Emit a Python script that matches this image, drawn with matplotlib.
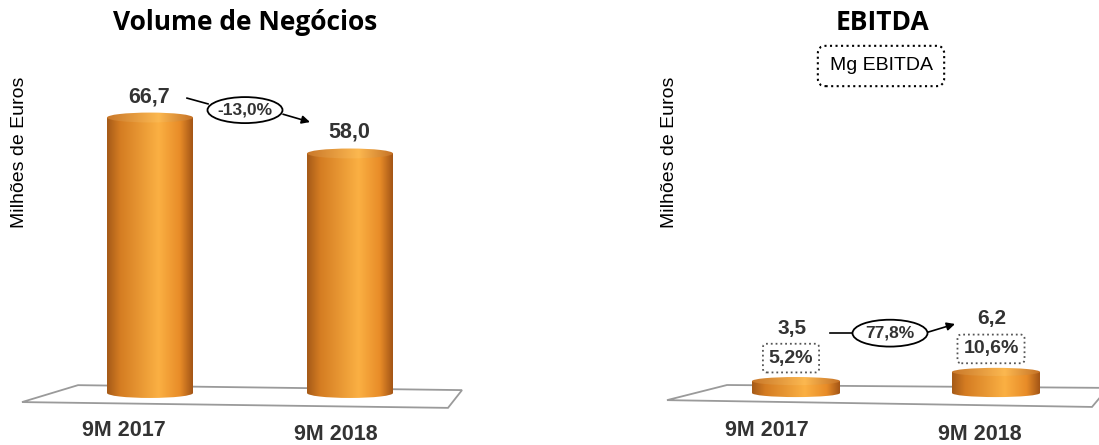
# Volume de Negocios / EBITDA - 9M 2017 vs 9M 2018 (cylinder bars)

import numpy as np
import matplotlib
matplotlib.use('Agg')
import matplotlib.pyplot as plt
from matplotlib.patches import Ellipse, Polygon
from matplotlib.colors import LinearSegmentedColormap

# Data
periods = ['9M 2017', '9M 2018']
volume = [66.7, 58.0]
ebitda = [3.5, 6.2]
ebitda_margin = ['5,2%', '10,6%']
volume_change = '-13,0%'
ebitda_change = '77,8%'

TEXT = '#333333'
SANS = 'Liberation Sans'
TITLE_FONT = 'Open Sans'

body_cmap = LinearSegmentedColormap.from_list('body', [
    (0.0, '#a55a18'), (0.15, '#d47c22'), (0.6, '#fbb043'),
    (0.85, '#e88c28'), (1.0, '#a35516')])
top_cmap = LinearSegmentedColormap.from_list('top', [
    (0.0, '#c9782a'), (0.6, '#fcb850'), (1.0, '#c57226')])


def fmt(v):
    return f"{v:.1f}".replace('.', ',')


def draw_cylinders(ax, values, width, ell_h):
    xs = np.arange(len(values))
    bars = ax.bar(xs, values, width=width, color='none', edgecolor='none', zorder=3)
    grad = np.linspace(0, 1, 256).reshape(1, -1)
    for x, h, bar in zip(xs, values, bars):
        x0, x1 = x - width / 2, x + width / 2
        im = ax.imshow(grad, cmap=body_cmap, extent=[x0, x1, -ell_h, h],
                       aspect='auto', zorder=3, interpolation='bicubic')
        im.set_clip_path(bar)
        bottom = Ellipse((x, 0), width, ell_h, fc='none', ec='none')
        ax.add_patch(bottom)
        im2 = ax.imshow(grad, cmap=body_cmap, extent=[x0, x1, -ell_h, ell_h],
                        aspect='auto', zorder=3, interpolation='bicubic')
        im2.set_clip_path(bottom)
        top = Ellipse((x, h), width, ell_h, fc='none', ec='none')
        ax.add_patch(top)
        im3 = ax.imshow(grad, cmap=top_cmap, extent=[x0, x1, h - ell_h, h + ell_h],
                        aspect='auto', zorder=4, interpolation='bicubic')
        im3.set_clip_path(top)
    return xs


def draw_floor(ax, corners):
    ax.add_patch(Polygon(corners, closed=True, facecolor='white',
                         edgecolor='#9a9a9a', linewidth=1.3, zorder=1))


def change_badge(ax, center, size, text, line_from, line_to, arrow_from, arrow_to):
    ax.plot([line_from[0], line_to[0]], [line_from[1], line_to[1]],
            color='black', linewidth=1.2, zorder=5)
    ax.annotate('', xy=arrow_to, xytext=arrow_from,
                arrowprops=dict(arrowstyle='-|>', color='black', lw=1.2,
                                mutation_scale=12, shrinkA=0, shrinkB=0), zorder=5)
    ax.add_patch(Ellipse(center, size[0], size[1], facecolor='white',
                         edgecolor='black', linewidth=1.3, zorder=6))
    ax.text(center[0], center[1], text, ha='center', va='center', fontsize=12.5,
            fontweight='bold', color=TEXT, family=SANS, zorder=7)


fig = plt.figure(figsize=(10.99, 4.45), dpi=100)

# ---- Left panel: Volume de Negocios ----
ax1 = fig.add_axes([0, 0, 550 / 1099, 1])
ax1.axis('off')
xs = draw_cylinders(ax1, volume, 0.43, 2.4)
draw_floor(ax1, [(-0.64, -2.2), (-0.36, 1.9), (1.56, 0.7), (1.49, -3.6)])
for x, v in zip(xs, volume):
    ax1.annotate(fmt(v), (x, v), xytext=(-1, 21), textcoords='offset pixels',
                 ha='center', va='center', fontsize=15.5, fontweight='bold',
                 color=TEXT, family=SANS, zorder=7)
for x, lab, dx, dy in zip(xs, periods, [-26, -14], [-37, -42]):
    ax1.annotate(lab, (x, 0), xytext=(dx, dy), textcoords='offset pixels',
                 ha='center', va='center', fontsize=15.5, fontweight='bold',
                 color=TEXT, family=SANS)
change_badge(ax1, (0.475, 68.5), (0.375, 6.3), volume_change,
             (0.185, 71.4), (0.29, 70.0), (0.665, 67.5), (0.8, 65.6))
ax1.set_xlim(-0.75, 2.0)
ax1.set_ylim(-52 / 4.13, 393 / 4.13)

# ---- Right panel: EBITDA ----
ax2 = fig.add_axes([550 / 1099, 0, 549 / 1099, 1])
ax2.axis('off')
xs = draw_cylinders(ax2, ebitda, 0.44, 2.4)
draw_floor(ax2, [(-0.645, -2.1), (-0.345, 2.35), (1.56, 1.5), (1.48, -4.1)])
for x, v, m in zip(xs, ebitda, ebitda_margin):
    ax2.annotate(fmt(v), (x, v), xytext=(-4, 53), textcoords='offset pixels',
                 ha='center', va='center', fontsize=15, fontweight='bold',
                 color=TEXT, family=SANS, zorder=7)
    ax2.annotate(m, (x, v), xytext=(-5, 23), textcoords='offset pixels',
                 ha='center', va='center', fontsize=14, fontweight='bold',
                 color=TEXT, family=SANS, zorder=7,
                 bbox=dict(boxstyle='round,pad=0.3,rounding_size=0.2', facecolor='white',
                           edgecolor='#555555', linestyle=':', linewidth=1.3))
for x, lab, dx, dy in zip(xs, periods, [-29, -16], [-37, -42]):
    ax2.annotate(lab, (x, 0), xytext=(dx, dy), textcoords='offset pixels',
                 ha='center', va='center', fontsize=15.5, fontweight='bold',
                 color=TEXT, family=SANS)
change_badge(ax2, (0.47, 17.6), (0.375, 7.9), ebitda_change,
             (0.17, 17.6), (0.285, 17.6), (0.66, 17.9), (0.795, 20.3))
ax2.set_xlim(-1.23, 1.515)
ax2.set_ylim(-52 / 3.4, 393 / 3.4)

# ---- Titles and axis labels ----
fig.text(245 / 1099, 1 - 22 / 445, 'Volume de Negócios', ha='center', va='center',
         fontsize=19, fontweight='bold', family=TITLE_FONT)
fig.text(882 / 1099, 1 - 22 / 445, 'EBITDA', ha='center', va='center',
         fontsize=19, fontweight='bold', family=TITLE_FONT)
fig.text(881 / 1099, 1 - 66 / 445, 'Mg EBITDA', ha='center', va='center',
         fontsize=14, family=SANS, color='black',
         bbox=dict(boxstyle='round,pad=0.6,rounding_size=0.4', facecolor='white',
                   edgecolor='black', linestyle=':', linewidth=1.5))
for xpix in [20, 669]:
    fig.text(xpix / 1099, 1 - 152 / 445, 'Milhões de Euros', rotation=90,
             ha='center', va='center', fontsize=14, family=SANS, color='black')

fig.savefig('out.png', dpi=100)
plt.close(fig)
